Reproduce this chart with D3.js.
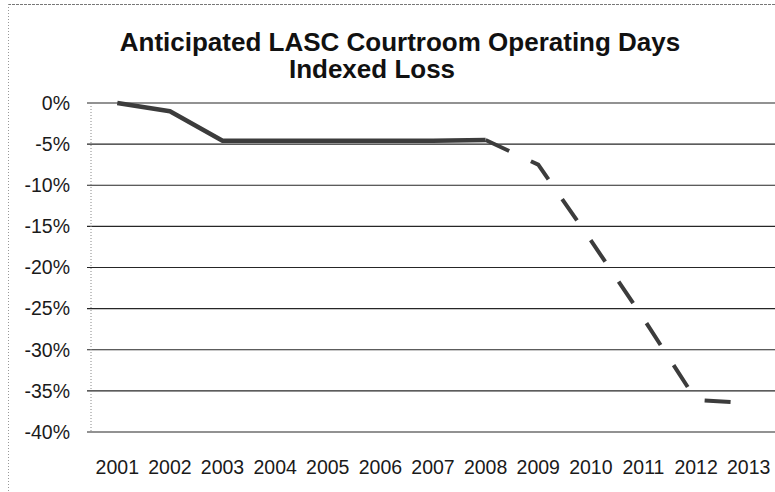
<!DOCTYPE html>
<meta charset="utf-8">
<style>
  body { margin: 0; background: #fff; }
  svg { display: block; font-family: "Liberation Sans", Arial, sans-serif; }
  .grid line { stroke: #262626; stroke-width: 1.2; }
  .tick-label { fill: #1a1a1a; font-size: 19.5px; }
  .title { fill: #111; font-size: 26px; font-weight: bold; }
</style>
<body>
</body>
<script src="https://cdn.jsdelivr.net/npm/d3@7"></script>
<script>
  const w = 775, h = 492;

  // data (percent change, indexed to 2001)
  const years = ['2001', '2002', '2003', '2004', '2005', '2006', '2007',
                 '2008', '2009', '2010', '2011', '2012', '2013'];
  const actualYears = ['2001', '2002', '2003', '2004', '2005', '2006', '2007', '2008'];
  const actualLoss = [0, -1.0, -4.6, -4.6, -4.6, -4.6, -4.6, -4.5];
  const projYears = ['2008', '2009', '2010', '2011', '2012', '2013'];
  const projLoss = [-4.5, -7.5, -16.7, -26.2, -36.1, -36.5];
  const yTicks = [0, -5, -10, -15, -20, -25, -30, -35, -40];
  const titleLines = ['Anticipated LASC Courtroom Operating Days', 'Indexed Loss'];

  const l = 91, r = 775, t = 103, b = 432;

  const svg = d3.select('body').append('svg')
    .attr('width', w)
    .attr('height', h);

  const x = d3.scalePoint().domain(years).range([l, r]).padding(0.5);
  const y = d3.scaleLinear().domain([-40, 0]).range([b, t]);

  // scanned page frame
  svg.append('line')
    .attr('x1', 8).attr('x2', w).attr('y1', 4.5).attr('y2', 4.5)
    .attr('stroke', '#777').attr('stroke-dasharray', '3 1');
  svg.append('line')
    .attr('x1', 8.5).attr('x2', 8.5).attr('y1', 4).attr('y2', h)
    .attr('stroke', '#999').attr('stroke-dasharray', '1 2');

  // title
  svg.append('text').attr('class', 'title')
    .attr('x', 400).attr('y', 51).attr('text-anchor', 'middle')
    .text(titleLines[0]);
  svg.append('text').attr('class', 'title')
    .attr('x', 372).attr('y', 78).attr('text-anchor', 'middle')
    .text(titleLines[1]);

  // horizontal gridlines
  svg.append('g').attr('class', 'grid')
    .selectAll('line')
    .data(yTicks)
    .join('line')
    .attr('x1', l - 4).attr('x2', r)
    .attr('y1', d => y(d)).attr('y2', d => y(d));

  // left axis (dotted)
  svg.append('line')
    .attr('x1', l).attr('x2', l).attr('y1', t).attr('y2', b)
    .attr('stroke', '#888').attr('stroke-dasharray', '1 2');

  // y labels
  svg.append('g')
    .selectAll('text')
    .data(yTicks)
    .join('text')
    .attr('class', 'tick-label')
    .attr('x', 70)
    .attr('y', d => y(d))
    .attr('dy', '0.35em')
    .attr('text-anchor', 'end')
    .text(d => `${d}%`);

  // x labels
  svg.append('g')
    .selectAll('text')
    .data(years)
    .join('text')
    .attr('class', 'tick-label')
    .attr('x', d => x(d))
    .attr('y', 474)
    .attr('text-anchor', 'middle')
    .text(d => d);

  const line = d3.line()
    .x(d => x(d.year))
    .y(d => y(d.v));

  const actual = actualYears.map((year, i) => ({year, v: actualLoss[i]}));
  const proj = projYears.map((year, i) => ({year, v: projLoss[i]}));

  svg.append('path')
    .datum(actual)
    .attr('d', line)
    .attr('fill', 'none')
    .attr('stroke', '#3c3c3c')
    .attr('stroke-width', 4.5)
    .attr('stroke-linejoin', 'round');

  svg.append('path')
    .datum(proj)
    .attr('d', line)
    .attr('fill', 'none')
    .attr('stroke', '#3c3c3c')
    .attr('stroke-width', 4)
    .attr('stroke-dasharray', '26 24');
</script>
